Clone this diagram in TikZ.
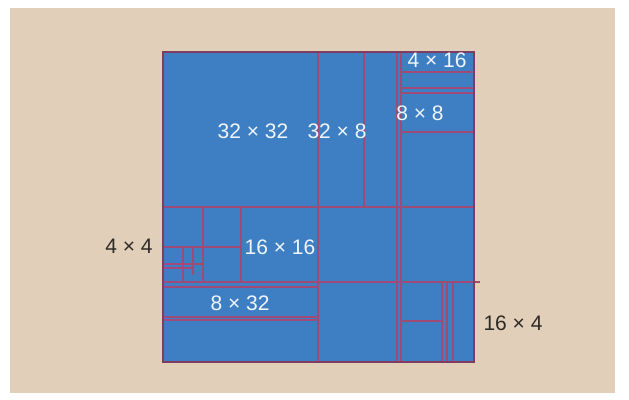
\documentclass[tikz,border=0pt]{standalone}
\usepackage{fontspec}
\setmainfont{Liberation Sans}
\usepackage{tikz}
\usepackage{xcolor}
\usetikzlibrary{calc,positioning}
\definecolor{sand}{HTML}{E2CFBA}
\definecolor{block}{HTML}{3E7FC3}
\definecolor{split}{HTML}{A04A78}
\definecolor{ink}{HTML}{2E2A26}

\tikzset{
	cut/.style={split,line width=0.55pt},
	inlabel/.style={text=white!92!block,font=\fontsize{10.5}{12}\selectfont,inner sep=1pt},
	outlabel/.style={text=ink,font=\fontsize{10.5}{12}\selectfont,inner sep=1pt}
}

\begin{document}
\begin{tikzpicture}[x=0.5pt,y=-0.5pt]
		\useasboundingbox (0,0) rectangle (629,400);
		\fill[white] (0,0) rectangle (629,400);
		\fill[sand] (10,8) rectangle (615,393);
		
		% the 64 x 64 block
		\fill[block] (163,52) rectangle (474,362);
		
		% vertical cuts
		\draw[cut] (318,52) -- (318,362);
		\draw[cut] (364,52) -- (364,207);
		\draw[cut] (397,52) -- (397,362);
		\draw[cut] (401,52) -- (401,362);
		\draw[cut] (241,207) -- (241,282);
		\draw[cut] (203,207) -- (203,282);
		\draw[cut] (183,247) -- (183,282);
		\draw[cut] (193,247) -- (193,275);
		\foreach \xx in {442,447,453}
			\draw[cut] (\xx,282) -- (\xx,362);
		
		% horizontal cuts
		\draw[cut] (163,207) -- (474,207);
		\draw[cut] (163,282) -- (480,282);
		\draw[cut] (163,287) -- (318,287);
		\foreach \yy in {72,88,93,132}
			\draw[cut] (401,\yy) -- (474,\yy);
		\draw[cut] (163,247) -- (241,247);
		\draw[cut] (163,264) -- (203,264);
		\draw[cut] (163,268) -- (193,268);
		\draw[cut] (163,317) -- (318,317);
		\draw[cut] (163,320) -- (318,320);
		\draw[cut] (401,321) -- (442,321);
		
		\draw[split!80!black,line width=0.7pt] (163,52) rectangle (474,362);
		
		% sizes
		\node[inlabel] (big) at (253,131) {32 × 32};
		\node[inlabel] (tall) at (337,131) {32 × 8};
		\node[inlabel] (flat) at (437,60) {4 × 16};
		\node[inlabel] (small) at (420,113) {8 × 8};
		\node[inlabel] (mid) at (280,247) {16 × 16};
		\node[inlabel] (wide) at (240,303) {8 × 32};
		\node[outlabel] (tiny) at (129,246) {4 × 4};
		\node[outlabel] (thin) at (513,323) {16 × 4};
	\end{tikzpicture}
\end{document}
